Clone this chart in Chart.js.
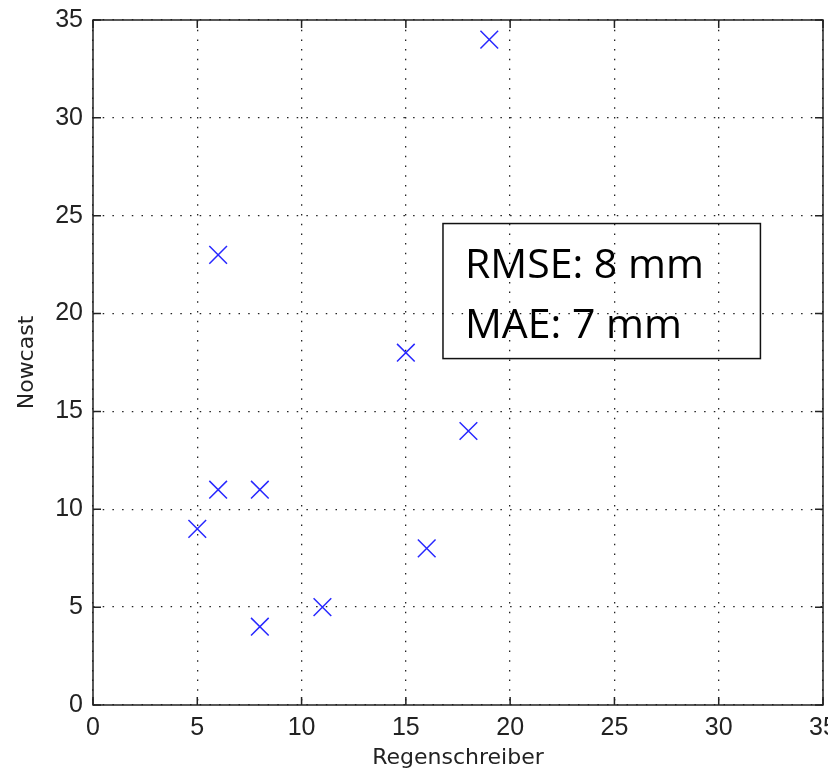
<!DOCTYPE html>
<html>
<head>
<meta charset="utf-8">
<script src="https://cdn.jsdelivr.net/npm/chart.js@4.4.1/dist/chart.umd.min.js"></script>
<style>
  body { margin: 0; background: #fff; }
  #wrap { width: 828px; height: 776px; }
</style>
</head>
<body>
<div id="wrap"><canvas id="scatterChart" width="828" height="776"></canvas></div>
<script>
// values
const regenschreiber = [5, 6, 6, 8, 8, 11, 15, 16, 18, 19];
const nowcast = [9, 23, 11, 11, 4, 5, 18, 8, 14, 34];
const axisTicks = [0, 5, 10, 15, 20, 25, 30, 35];
const statLines = ['RMSE: 8 mm', 'MAE: 7 mm'];
const statBox = { x0: 16.78, x1: 32.0, y0: 24.6, y1: 17.7 }; // data coords

const points = regenschreiber.map((x, i) => ({ x, y: nowcast[i] }));

// frame, inward ticks and the stats box
const matlabAxes = {
  id: 'matlabAxes',
  afterDraw(chart) {
    const { ctx, chartArea: a, scales: { x, y } } = chart;
    ctx.save();
    ctx.strokeStyle = '#222';
    ctx.lineWidth = 1.5;
    ctx.setLineDash([]);
    ctx.strokeRect(a.left, a.top, a.right - a.left, a.bottom - a.top);

    const tl = 8;
    ctx.beginPath();
    axisTicks.forEach(v => {
      const px = x.getPixelForValue(v);
      ctx.moveTo(px, a.bottom); ctx.lineTo(px, a.bottom - tl);
      ctx.moveTo(px, a.top); ctx.lineTo(px, a.top + tl);
      const py = y.getPixelForValue(v);
      ctx.moveTo(a.left, py); ctx.lineTo(a.left + tl, py);
      ctx.moveTo(a.right, py); ctx.lineTo(a.right - tl, py);
    });
    ctx.stroke();

    // stats box
    const bx0 = x.getPixelForValue(statBox.x0), bx1 = x.getPixelForValue(statBox.x1);
    const by0 = y.getPixelForValue(statBox.y0), by1 = y.getPixelForValue(statBox.y1);
    ctx.lineWidth = 1.5;
    ctx.strokeStyle = '#111';
    ctx.strokeRect(bx0, by0, bx1 - bx0, by1 - by0);
    ctx.fillStyle = '#000';
    ctx.font = '41px "Open Sans"';
    ctx.textBaseline = 'alphabetic';
    ctx.textAlign = 'left';
    statLines.forEach((t, i) => ctx.fillText(t, bx0 + 22, by0 + 54 + i * 60));
    ctx.restore();
  }
};

const noPad = () => ({ left: 0, right: 0, top: 0, bottom: 0 });
const tickFont = { family: '"Liberation Sans", Arial, sans-serif', size: 25 };
const titleFont = { family: '"DejaVu Sans", sans-serif', size: 22 };

new Chart(document.getElementById('scatterChart'), {
  type: 'scatter',
  data: {
    datasets: [{
      data: points,
      pointStyle: 'crossRot',
      radius: 12.5,
      hoverRadius: 12.5,
      borderColor: 'rgb(40, 40, 255)',
      backgroundColor: 'rgb(40, 40, 255)',
      borderWidth: 1.5,
      hoverBorderWidth: 1.5
    }]
  },
  options: {
    responsive: false,
    animation: false,
    layout: { autoPadding: false, padding: { top: 20, right: 5, left: 0, bottom: 0 } },
    plugins: { legend: { display: false }, tooltip: { enabled: false } },
    scales: {
      x: {
        type: 'linear', min: 0, max: 35,
        afterBuildTicks: s => { s.ticks = axisTicks.map(v => ({ value: v })); },
        afterFit: s => { s.height = 71; s.paddingLeft = 0; s.paddingRight = 0; s.getPadding = noPad; },
        ticks: { font: tickFont, color: '#222', padding: 8, maxRotation: 0, autoSkip: false },
        grid: { color: '#222', lineWidth: 1.3, drawTicks: false },
        border: { display: false, dash: [1.5, 8.2] },
        title: { display: true, text: 'Regenschreiber', font: titleFont, color: '#222', padding: { top: 0, bottom: 5 } }
      },
      y: {
        type: 'linear', min: 0, max: 35,
        afterBuildTicks: s => { s.ticks = axisTicks.map(v => ({ value: v })); },
        afterFit: s => { s.width = 93; s.paddingTop = 0; s.paddingBottom = 0; s.getPadding = noPad; },
        ticks: { font: tickFont, color: '#222', padding: 10, autoSkip: false },
        grid: { color: '#222', lineWidth: 1.3, drawTicks: false },
        border: { display: false, dash: [1.5, 8.2] },
        title: { display: true, text: 'Nowcast', font: titleFont, color: '#222', padding: { top: 14, bottom: 0 } }
      }
    }
  },
  plugins: [matlabAxes]
});
</script>
</body>
</html>
